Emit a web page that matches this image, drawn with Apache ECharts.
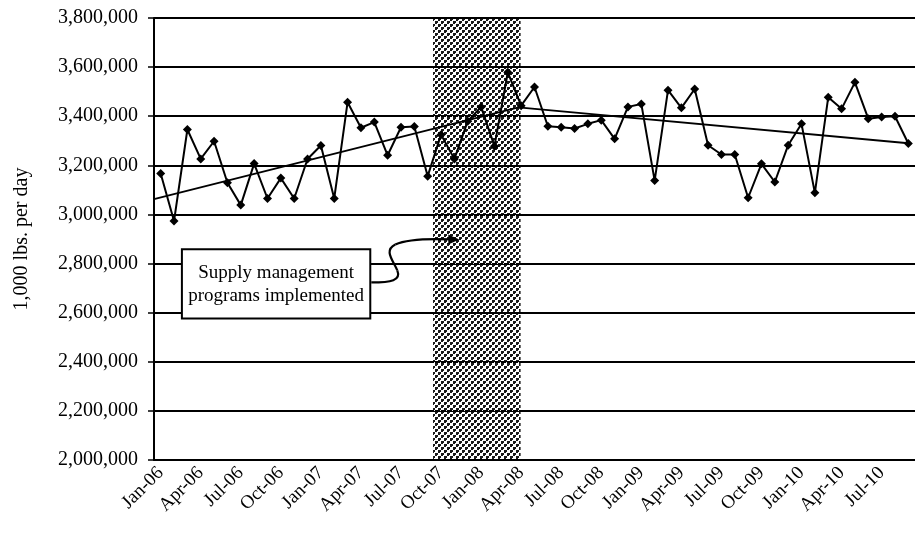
<!DOCTYPE html>
<html><head><meta charset="utf-8">
<script src="https://cdn.jsdelivr.net/npm/echarts@6/dist/echarts.min.js"></script>
<style>html,body{margin:0;padding:0;background:#fff}#c{width:915px;height:534px}</style>
</head><body><div id="c"></div>
<script>
const months = [
 'Jan-06','Feb-06','Mar-06','Apr-06','May-06','Jun-06','Jul-06','Aug-06','Sep-06','Oct-06','Nov-06','Dec-06',
 'Jan-07','Feb-07','Mar-07','Apr-07','May-07','Jun-07','Jul-07','Aug-07','Sep-07','Oct-07','Nov-07','Dec-07',
 'Jan-08','Feb-08','Mar-08','Apr-08','May-08','Jun-08','Jul-08','Aug-08','Sep-08','Oct-08','Nov-08','Dec-08',
 'Jan-09','Feb-09','Mar-09','Apr-09','May-09','Jun-09','Jul-09','Aug-09','Sep-09','Oct-09','Nov-09','Dec-09',
 'Jan-10','Feb-10','Mar-10','Apr-10','May-10','Jun-10','Jul-10','Aug-10','Sep-10'
];
const production = [
 3167000,2973000,3346000,3226000,3298000,3129000,3038000,3207000,3065000,3148000,3065000,3226000,
 3281000,3065000,3457000,3353000,3376000,3241000,3355000,3358000,3156000,3325000,3226000,3380000,
 3438000,3278000,3579000,3443000,3519000,3359000,3355000,3350000,3369000,3384000,3308000,3438000,
 3450000,3138000,3506000,3434000,3511000,3282000,3244000,3244000,3068000,3206000,3132000,3282000,
 3369000,3088000,3477000,3430000,3538000,3390000,3397000,3400000,3289000
];
// trend line vertices (position in months from Jan-06 start, value)
const trendPos = [0, 27.3, 56.5];
const trendVal = [3062000, 3436000, 3290000];
// shaded period (months from Jan-06 start)
const shadeStart = 20.9;
const shadeEnd = 27.46;
const yMin = 2000000, yMax = 3800000, yStep = 200000;
const yAxisTitle = '1,000 lbs. per day';
const noteLines = ['Supply management', 'programs implemented'];

const FONT = '"Liberation Serif", "Times New Roman", serif';

// dotted pattern for shaded region
const pc = document.createElement('canvas');
pc.width = 6; pc.height = 6;
const pctx = pc.getContext('2d');
pctx.fillStyle = '#000';
pctx.fillRect(0,0,3,3);
pctx.fillRect(3,3,3,3);
pctx.fillStyle = '#fff';
pctx.fillRect(2,2,1,1);
pctx.fillRect(5,5,1,1);

const chart = echarts.init(document.getElementById('c'), null, {renderer:'canvas'});
chart.setOption({
  animation: false,
  backgroundColor: '#fff',
  grid: {left: 154, top: 18, width: 764, height: 442, containLabel: false},
  xAxis: [{
    type: 'category', data: months, boundaryGap: true,
    axisLine: {lineStyle: {color: '#000', width: 2}},
    axisTick: {interval: 2, length: 6, lineStyle: {color: '#000', width: 1.5}},
    axisLabel: {interval: 2, rotate: 45, margin: 10, color: '#000', fontFamily: FONT, fontSize: 19},
    splitLine: {show: false}
  }, {
    type: 'value', min: 0, max: 57, show: false
  }],
  yAxis: [{
    type: 'value', min: yMin, max: yMax, interval: yStep,
    name: yAxisTitle, nameLocation: 'middle', nameRotate: 90, nameGap: 122,
    nameTextStyle: {color: '#000', fontFamily: FONT, fontSize: 20},
    axisLine: {show: true, lineStyle: {color: '#000', width: 2}},
    axisTick: {show: true, length: 6, lineStyle: {color: '#000', width: 1.5}},
    axisLabel: {color: '#000', fontFamily: FONT, fontSize: 20, margin: 16,
      formatter: v => v.toLocaleString('en-US')},
    splitLine: {show: true, lineStyle: {color: '#000', width: 1.8}}
  }],
  series: [{
    type: 'line', xAxisIndex: 1, yAxisIndex: 0,
    data: trendPos.map((p, i) => [p, trendVal[i]]),
    symbol: 'none', lineStyle: {color: '#000', width: 1.8}, z: 3,
    markArea: {
      silent: true,
      itemStyle: {color: {image: pc, repeat: 'repeat'}, opacity: 0.9},
      data: [[{xAxis: shadeStart}, {xAxis: shadeEnd}]]
    }
  }, {
    type: 'line', xAxisIndex: 0, yAxisIndex: 0, data: production,
    symbol: 'diamond', symbolSize: 9, showAllSymbol: true,
    lineStyle: {color: '#000', width: 2}, itemStyle: {color: '#000'}, z: 4
  }]
});

// annotation box + curved arrow, anchored in data space
const P = (x, y) => chart.convertToPixel({seriesIndex: 0}, [x, y]);
const tl = P(2.09, 2858000), br = P(16.2, 2576000);
const sx = br[0] + 1, sy = P(0, 2723000)[1];
const tip = [sx + 88, sy - 43];
const seg = (x1, y1, c1x, c1y, c2x, c2y, x2, y2) => ({
  type: 'bezierCurve', z: 11,
  shape: {x1: sx+x1, y1: sy+y1, cpx1: sx+c1x, cpy1: sy+c1y, cpx2: sx+c2x, cpy2: sy+c2y, x2: sx+x2, y2: sy+y2},
  style: {stroke: '#000', lineWidth: 2.2, fill: null}
});
chart.setOption({graphic: [
  {type: 'rect', shape: {x: tl[0], y: tl[1], width: br[0]-tl[0], height: br[1]-tl[1]},
   style: {fill: '#fff', stroke: '#000', lineWidth: 2}, z: 10},
  {type: 'text', x: (tl[0]+br[0])/2, y: (tl[1]+br[1])/2 + 1, z: 11,
   style: {text: noteLines.join('\n'), align: 'center', verticalAlign: 'middle',
     font: '19px ' + FONT, fill: '#000', lineHeight: 23}},
  seg(0, 0, 20, 0, 30, -2, 26, -12),
  seg(26, -12, 22, -22, 12, -32, 24, -38),
  seg(24, -38, 35, -43, 60, -44, 82, -43),
  {type: 'polygon', z: 11,
   shape: {points: [[tip[0], tip[1]], [tip[0]-11, tip[1]-5], [tip[0]-11, tip[1]+5]]},
   style: {fill: '#000'}}
]});
</script>
</body></html>
